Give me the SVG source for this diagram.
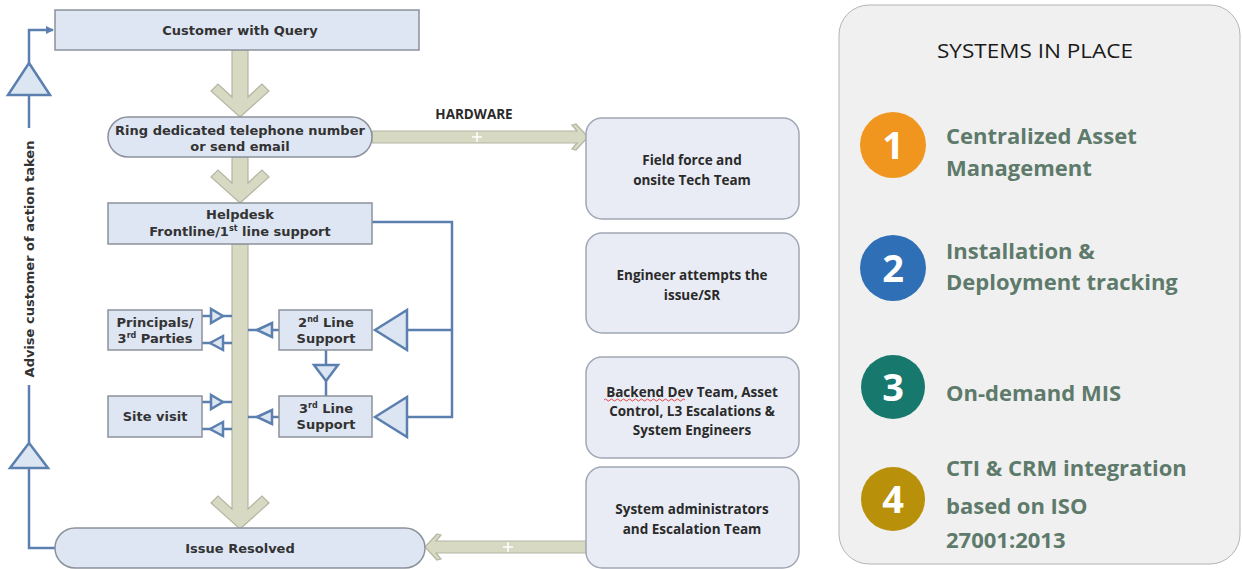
<svg xmlns="http://www.w3.org/2000/svg" width="1242" height="569" viewBox="0 0 1242 569">
<defs>
<style>
.box{fill:#dfe6f3;stroke:#8c919b;stroke-width:1.5}
.rbox{fill:#e9ecf5;stroke:#a0a7b4;stroke-width:1.5}
.beige{fill:#d7d9c3;stroke:#b4b6a3;stroke-width:1.2}
.ln{fill:none;stroke:#5b7fae;stroke-width:2.5}
.tri{fill:#dce6f2;stroke:#5b7fae;stroke-width:2.5;stroke-linejoin:miter}
.t{font-family:"DejaVu Sans",Verdana,sans-serif;font-weight:bold;font-size:13px;fill:#333;text-anchor:middle}
.r{font-family:"Open Sans","Noto Sans",sans-serif;font-weight:bold;font-size:13.5px;fill:#2a2a2a;text-anchor:middle}
.g{font-family:"Open Sans","Noto Sans",sans-serif;font-weight:bold;font-size:22px;fill:#5e7a6b}
.n{font-family:"Open Sans","Noto Sans",sans-serif;font-weight:bold;font-size:38px;fill:#fff;text-anchor:middle}
.plus{stroke:#fff;stroke-width:1.5}
</style>
<marker id="ah" markerWidth="8" markerHeight="8" refX="7" refY="4" orient="auto" markerUnits="userSpaceOnUse"><path d="M0,0 L8,4 L0,8 z" fill="#5b7fae"/></marker>
</defs>
<rect width="1242" height="569" fill="#fff"/>

<g id="connectors">
<polygon class="beige" points="240,117 269,91 262,84 248,97 248,50 232,50 232,97 218,84 211,91"/>
<polygon class="beige" points="240,203 269,177 262,170 248,183 248,157 232,157 232,183 218,170 211,177"/>
<polygon class="beige" points="240,529 269,503 262,496 248,509 248,244 232,244 232,509 218,496 211,503"/>
<polygon class="beige" points="372,131 577,131 572,125 576,124 588,137 576,150 572,149 577,143 372,143"/>
<line class="plus" x1="472" y1="137" x2="482" y2="137"/><line class="plus" x1="477" y1="132" x2="477" y2="142"/>
<polygon class="beige" points="586,541 436,541 441,535 437,534 425,547 437,560 441,559 436,553 586,553"/>
<line class="plus" x1="503" y1="547" x2="513" y2="547"/><line class="plus" x1="508" y1="542" x2="508" y2="552"/>

<path class="ln" d="M29,63 V30 H53" marker-end="url(#ah)"/>
<polygon class="tri" points="29,63 50,95 8,95"/>
<line class="ln" x1="29" y1="95" x2="29" y2="128"/>
<line class="ln" x1="29" y1="385" x2="29" y2="443"/>
<polygon class="tri" points="29,443 48,468 10,468"/>
<path class="ln" d="M29,468 V548 H57"/>
<text class="t" transform="translate(34,259) rotate(-90)" font-size="12.5">Advise customer of action taken</text>

<path class="ln" d="M372,222 H452 V417 H407 M452,330 H407"/>
<polygon class="tri" points="375,330 407,310 407,350"/>
<polygon class="tri" points="375,417 407,397 407,437"/>
<line class="ln" x1="326" y1="350" x2="326" y2="396"/>
<polygon class="tri" points="314,365 338,365 326,381"/>
<line class="ln" x1="248" y1="330" x2="279" y2="330"/>
<polygon class="tri" points="257,330 272,323 272,337"/>
<line class="ln" x1="248" y1="417" x2="279" y2="417"/>
<polygon class="tri" points="257,417 272,410 272,424"/>
<line class="ln" x1="202" y1="316" x2="232" y2="316"/>
<polygon class="tri" points="223,316 211,309 211,323"/>
<line class="ln" x1="202" y1="343" x2="232" y2="343"/>
<polygon class="tri" points="210,343 223,336 223,350"/>
<line class="ln" x1="202" y1="402" x2="232" y2="402"/>
<polygon class="tri" points="223,402 211,395 211,409"/>
<line class="ln" x1="202" y1="429" x2="232" y2="429"/>
<polygon class="tri" points="210,429 223,422 223,436"/>
</g>

<g id="customer"><rect class="box" x="55" y="10" width="364" height="40"/><text class="t" x="240" y="35">Customer with Query</text></g>
<g id="ring"><rect class="box" x="108" y="117" width="264" height="40" rx="20"/><text class="t" x="240" y="135">Ring dedicated telephone number</text><text class="t" x="240" y="151">or send email</text></g>
<g id="helpdesk"><rect class="box" x="108" y="203" width="264" height="41"/><text class="t" x="240" y="219">Helpdesk</text><text class="t" x="240" y="236">Frontline/1<tspan font-size="8" dy="-5">st</tspan><tspan dy="5"> line support</tspan></text></g>
<g id="line2"><rect class="box" x="279" y="310" width="93" height="40"/><text class="t" x="326" y="327">2<tspan font-size="8" dy="-5">nd</tspan><tspan dy="5"> Line</tspan></text><text class="t" x="326" y="343">Support</text></g>
<g id="line3"><rect class="box" x="279" y="396" width="93" height="41"/><text class="t" x="326" y="413">3<tspan font-size="8" dy="-5">rd</tspan><tspan dy="5"> Line</tspan></text><text class="t" x="326" y="429">Support</text></g>
<g id="principals"><rect class="box" x="108" y="310" width="94" height="40"/><text class="t" x="155" y="327">Principals/</text><text class="t" x="155" y="343">3<tspan font-size="8" dy="-5">rd</tspan><tspan dy="5"> Parties</tspan></text></g>
<g id="sitevisit"><rect class="box" x="108" y="396" width="94" height="41"/><text class="t" x="155" y="421">Site visit</text></g>
<g id="resolved"><rect class="box" x="55" y="528" width="370" height="40" rx="20"/><text class="t" x="240" y="553">Issue Resolved</text></g>

<g id="hardware-label"><text class="r" x="474" y="119" font-size="14">HARDWARE</text></g>
<g id="fieldforce"><rect class="rbox" x="586" y="118" width="213" height="101" rx="16"/><text class="r" x="692" y="165">Field force and</text><text class="r" x="692" y="185">onsite Tech Team</text></g>
<g id="engineer"><rect class="rbox" x="586" y="233" width="213" height="100" rx="16"/><text class="r" x="692" y="280">Engineer attempts the</text><text class="r" x="692" y="300">issue/SR</text></g>
<g id="backend"><rect class="rbox" x="586" y="357" width="213" height="101" rx="16"/><text class="r" x="692" y="397">Backend Dev Team, Asset</text><text class="r" x="692" y="416">Control, L3 Escalations &amp;</text><text class="r" x="692" y="435">System Engineers</text>
<path d="M604,400 q1.5,-2 3,0 t3,0 t3,0 t3,0 t3,0 t3,0 t3,0 t3,0 t3,0 t3,0 t3,0 t3,0 t3,0 t3,0 t3,0 t3,0 t3,0 t3,0 t3,0 t3,0 t3,0 t3,0 t3,0 t3,0 t3,0 t3,0 t3,0" fill="none" stroke="#e02020" stroke-width="0.8"/></g>
<g id="sysadmin"><rect class="rbox" x="586" y="467" width="213" height="101" rx="16"/><text class="r" x="692" y="514">System administrators</text><text class="r" x="692" y="534">and Escalation Team</text></g>

<g id="panel">
<rect x="839" y="5" width="401" height="559" rx="30" fill="#f0f0f0" stroke="#b4b4b4" stroke-width="1"/>
<text x="1035" y="58" font-family="'Open Sans','Noto Sans',sans-serif" font-size="20" fill="#1a1a1a" text-anchor="middle" textLength="196" lengthAdjust="spacingAndGlyphs">SYSTEMS IN PLACE</text>
</g>
<g id="item1"><circle cx="893" cy="145" r="33" fill="#f0961e"/><text class="n" x="893" y="159">1</text><text class="g" x="946" y="144">Centralized Asset</text><text class="g" x="946" y="176">Management</text></g>
<g id="item2"><circle cx="893" cy="268" r="33" fill="#2e6fb5"/><text class="n" x="893" y="282">2</text><text class="g" x="946" y="259">Installation &amp;</text><text class="g" x="946" y="290">Deployment tracking</text></g>
<g id="item3"><circle cx="893" cy="387" r="32" fill="#17786e"/><text class="n" x="893" y="401">3</text><text class="g" x="946" y="401">On-demand MIS</text></g>
<g id="item4"><circle cx="893" cy="499" r="32" fill="#b8900a"/><text class="n" x="893" y="513">4</text><text class="g" x="946" y="476">CTI &amp; CRM integration</text><text class="g" x="946" y="514">based on ISO</text><text class="g" x="946" y="548">27001:2013</text></g>
</svg>
